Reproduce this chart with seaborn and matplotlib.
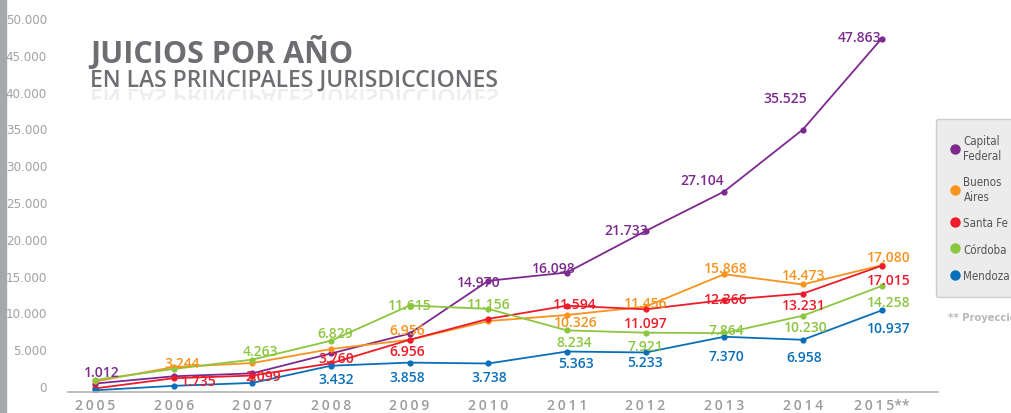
# Juicios por año en las principales jurisdicciones (2005-2015)

import matplotlib
matplotlib.use("Agg")
import matplotlib.pyplot as plt
from matplotlib.font_manager import FontProperties
from matplotlib.lines import Line2D
from matplotlib.patches import PathPatch, Rectangle
from matplotlib.textpath import TextPath
from matplotlib.transforms import Affine2D, IdentityTransform
import pandas as pd
import seaborn as sns


YEARS = [2005, 2006, 2007, 2008, 2009, 2010, 2011, 2012, 2013, 2014, 2015]
YEAR_LABELS = ["2005", "2006", "2007", "2008", "2009", "2010",
               "2011", "2012", "2013", "2014", "2015**"]
JURISDICCIONES = ["Capital Federal", "Buenos Aires", "Santa Fe", "Córdoba", "Mendoza"]
LEGEND_LABELS = ["Capital\nFederal", "Buenos\nAires", "Santa Fe", "Córdoba", "Mendoza"]

capital_federal = [1012, 2000, 2400, 5100, 7800, 14970, 16098, 21733, 27104, 35525, 47863]
buenos_aires = [1300, 3244, 3800, 5700, 6956, 9500, 10326, 11456, 15868, 14473, 17080]
santa_fe = [350, 1735, 2099, 3760, 6956, 9800, 11594, 11097, 12366, 13231, 17015]
cordoba = [1500, 3000, 4263, 6829, 11615, 11156, 8234, 7921, 7864, 10230, 14258]
mendoza = [100, 700, 1100, 3432, 3858, 3738, 5363, 5233, 7370, 6958, 10937]

Y_TICKS = [0, 5000, 10000, 15000, 20000, 25000, 30000, 35000, 40000, 45000, 50000]

COLORS = {
    "Capital Federal": "#7d2a8f",
    "Buenos Aires": "#f7931e",
    "Santa Fe": "#ec1c2a",
    "Córdoba": "#8cc63f",
    "Mendoza": "#0a6fba",
}

# posición de cada etiqueta (px respecto al punto); solo los años rotulados
LABEL_OFFSETS = {
    "Capital Federal": {2005: (7, 12), 2010: (-10, -1), 2011: (-13, 5), 2012: (-19, 1),
                        2013: (-22, 12), 2014: (-18, 32), 2015: (-22, 2)},
    "Buenos Aires": {2006: (8, 4), 2009: (-2, 10), 2011: (9, -7), 2012: (0, 4),
                     2013: (2, 6), 2014: (1, 9), 2015: (7, 8)},
    "Santa Fe": {2006: (25, -3), 2007: (11, 0), 2008: (5, 5), 2009: (-2, -11),
                 2011: (8, 2), 2012: (0, -14), 2013: (2, 1), 2014: (1, -11), 2015: (7, -14)},
    "Córdoba": {2007: (8, 9), 2008: (4, 8), 2009: (0, 1), 2010: (1, 5), 2011: (7, -12),
                2012: (0, -13), 2013: (2, 3), 2014: (3, -11), 2015: (7, -16)},
    "Mendoza": {2008: (5, -13), 2009: (-2, -14), 2010: (1, -14), 2011: (9, -11),
                2012: (0, -10), 2013: (2, -19), 2014: (1, -17), 2015: (7, -18)},
}


def fmt_miles(v):
    return f"{v:,}".replace(",", ".")


def narrow(size, weight="normal"):
    return FontProperties(family="DejaVu Sans", stretch="condensed", size=size, weight=weight)


series = [capital_federal, buenos_aires, santa_fe, cordoba, mendoza]
df = pd.concat(
    [pd.DataFrame({"anio": YEARS, "juicios": vals, "jurisdiccion": name})
     for name, vals in zip(JURISDICCIONES, series)],
    ignore_index=True,
)

sns.set_theme(style="white")
plt.rcParams["font.family"] = ["Open Sans", "DejaVu Sans"]

W, H = 1011, 414
fig = plt.figure(figsize=(W / 100, H / 100), dpi=100)
ax = fig.add_axes([68 / W, (H - 393) / H, (938 - 68) / W, (393 - 10) / H])

sns.lineplot(
    data=df, x="anio", y="juicios", hue="jurisdiccion", hue_order=JURISDICCIONES,
    palette=COLORS, marker="o", markersize=4.5, markeredgewidth=0,
    linewidth=1.3, legend=False, ax=ax,
)

for name, vals in zip(JURISDICCIONES, series):
    for year, val in zip(YEARS, vals):
        if year not in LABEL_OFFSETS[name]:
            continue
        dx, dy = LABEL_OFFSETS[name][year]
        ax.annotate(
            fmt_miles(val), (year, val), xytext=(dx, dy), textcoords="offset pixels",
            ha="center", va="center", fontsize=10, fontweight="semibold",
            color=COLORS[name],
        )

ax.set_xlim(2005 - 27 / 78.65, 2015 + 56.5 / 78.65)
ax.set_ylim(-136, 51900)
ax.set_xlabel("")
ax.set_ylabel("")

ax.set_yticks(Y_TICKS)
ax.set_yticklabels([fmt_miles(v) for v in Y_TICKS])
ax.tick_params(axis="y", length=0, pad=15, labelcolor="#a2a2a2")
for lbl in ax.get_yticklabels():
    lbl.set_fontproperties(narrow(9.5))
    lbl.set_verticalalignment("baseline")

ax.set_xticks(YEARS)
ax.set_xticklabels(["\u2009".join(s[:4]) + s[4:] for s in YEAR_LABELS])
ax.tick_params(axis="x", length=0, pad=4, labelsize=10, labelcolor="#9b9b9b")
for lbl in ax.get_xticklabels():
    lbl.set_fontweight("semibold")

for side in ["top", "right", "left"]:
    ax.spines[side].set_visible(False)
ax.spines["bottom"].set_color("#b3b3b3")
ax.spines["bottom"].set_linewidth(1.2)
ax.grid(False)

# franja gris del borde izquierdo
fig.patches.append(Rectangle((0, 0), 6 / W, 1, transform=fig.transFigure,
                             color="#a6a8ab", zorder=0))

TITLE_COLOR = "#6d6e71"
SUBTITLE = "EN LAS PRINCIPALES JURISDICCIONES"
fig.text(90 / W, (H - 63) / H, "JUICIOS POR AÑO", fontsize=22, fontweight="bold",
         color=TITLE_COLOR, va="baseline")
fig.text(90 / W, (H - 87) / H, SUBTITLE, fontsize=16.5,
         fontweight="semibold", color=TITLE_COLOR, va="baseline")

# reflejo tenue del subtítulo
base_y = H - 87
tp = TextPath((0, 0), SUBTITLE, size=16.5 * 100 / 72,
              prop=FontProperties(family="Open Sans", weight="semibold"))
reflejo = PathPatch(tp, transform=Affine2D().scale(1, -1).translate(90, base_y - 3),
                    facecolor=TITLE_COLOR, edgecolor="none", alpha=0.12)
fig.add_artist(reflejo)
clip = Rectangle((0, base_y - 14), W, 11, transform=IdentityTransform())
reflejo.set_clip_path(clip)

handles = [Line2D([], [], marker="o", ls="", markersize=7.5, markeredgewidth=0,
                  color=COLORS[n]) for n in JURISDICCIONES]
leg = ax.legend(
    handles, LEGEND_LABELS, loc="upper left",
    bbox_to_anchor=(930 / W, (H - 114) / H), bbox_transform=fig.transFigure,
    frameon=True, fancybox=True, facecolor="#ececec", edgecolor="#cdcdcd",
    handlelength=0.7, handletextpad=0.4, borderpad=1.3, labelspacing=1.15,
    prop=narrow(8.3), labelcolor="#555555", framealpha=1,
)

fig.text(948 / W, (H - 318) / H, "** Proyección", color="#b8b8b8", va="center",
         fontproperties=narrow(8, "bold"))

fig.savefig("out.png", dpi=100)
